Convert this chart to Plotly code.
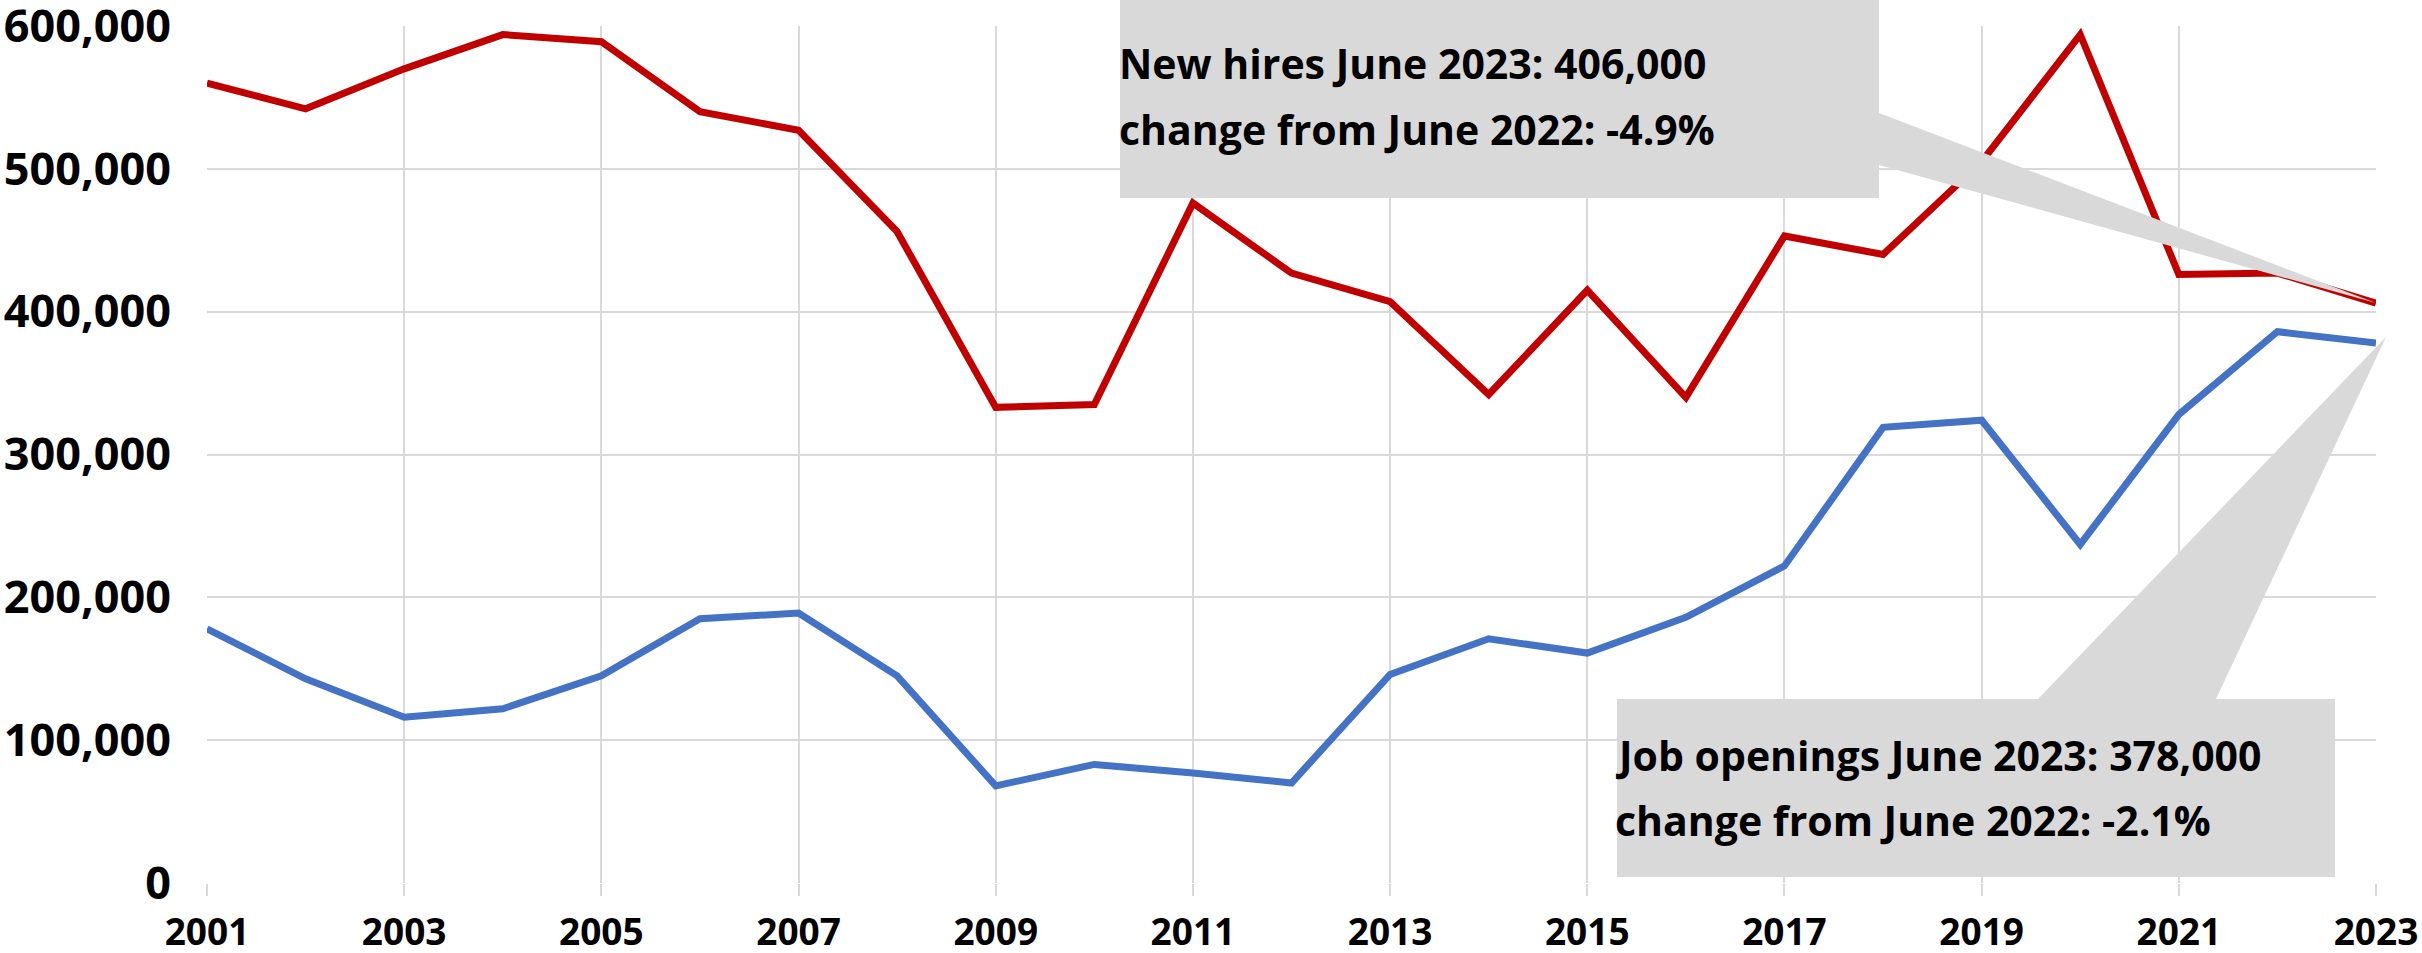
import plotly.graph_objects as go

# ---- data ----
years = list(range(2001, 2024))
new_hires = [560000, 542000, 570000, 594000, 589000, 540000, 527000, 456000,
             333000, 335000, 476000, 427000, 407000, 342000, 415000, 340000,
             453000, 440000, 505000, 594000, 426000, 427000, 406000]
job_openings = [178000, 143000, 116000, 122000, 145000, 185000, 189000, 145000,
                68000, 83000, 77000, 70000, 146000, 171000, 161000, 186000,
                222000, 319000, 324000, 237000, 328000, 386000, 378000]
y_tick_values = [0, 100000, 200000, 300000, 400000, 500000, 600000]
x_tick_values = list(range(2001, 2024, 2))
hires_callout = ["New hires June 2023: 406,000", "change from June 2022: -4.9%"]
openings_callout = ["Job openings June 2023: 378,000", "change from June 2022: -2.1%"]

# ---- styling ----
RED = "#C00000"
BLUE = "#4472C4"
GRID = "#D9D9D9"
CALLOUT = "#D9D9D9"
FONT = "Open Sans, Lato, DejaVu Sans, sans-serif"

W, H = 2422, 953
ML, MR, MT, MB = 207, 46, 26, 70
PW, PH = W - ML - MR, H - MT - MB
X_RANGE = [2001, 2023]
Y_RANGE = [0, 600000]


def px_x(X):
    return (X - ML) / PW


def px_y(Y):
    return (H - MB - Y) / PH


def data_x(v):
    return (v - X_RANGE[0]) / (X_RANGE[1] - X_RANGE[0])


def data_y(v):
    return (v - Y_RANGE[0]) / (Y_RANGE[1] - Y_RANGE[0])


fig = go.Figure()
fig.add_trace(go.Scatter(x=years, y=new_hires, mode="lines", name="New hires",
                         line=dict(color=RED, width=7)))
fig.add_trace(go.Scatter(x=years, y=job_openings, mode="lines", name="Job openings",
                         line=dict(color=BLUE, width=7)))

# ---- callout 1 (new hires): box at top, tail pointing to last red point ----
x0, x1 = px_x(1120), px_x(1879)
y0, y1 = px_y(198), px_y(0)
tb_top, tb_bot = px_y(113), px_y(165)
tipx, tipy = data_x(years[-1]), data_y(new_hires[-1])
path1 = (f"M {x0},{y1} L {x1},{y1} L {x1},{tb_top} L {tipx},{tipy} "
         f"L {x1},{tb_bot} L {x1},{y0} L {x0},{y0} Z")

# ---- callout 2 (job openings): box at bottom right, tail pointing up ----
a0, a1 = px_x(1617), px_x(2335)
b0, b1 = px_y(877), px_y(699)
bl, br = px_x(2038), px_x(2216)
tip2x = data_x(years[-1]) + 10 / PW
tip2y = data_y(job_openings[-1]) + 6 / PH
path2 = (f"M {a0},{b0} L {a0},{b1} L {bl},{b1} L {tip2x},{tip2y} "
         f"L {br},{b1} L {a1},{b1} L {a1},{b0} Z")

shapes = [
    dict(type="path", xref="paper", yref="paper", path=path1,
         fillcolor=CALLOUT, line=dict(width=0), layer="above"),
    dict(type="path", xref="paper", yref="paper", path=path2,
         fillcolor=CALLOUT, line=dict(width=0), layer="above"),
]

ann_font = dict(family=FONT, size=41, color="black", weight="bold")
annotations = []
for text, Y in zip(hires_callout, [63, 129]):
    annotations.append(dict(xref="paper", yref="paper", x=px_x(1118), y=px_y(Y),
                            xanchor="left", yanchor="middle", text=text,
                            showarrow=False, font=ann_font, borderpad=0))
for text, Y in zip(openings_callout, [755, 820]):
    annotations.append(dict(xref="paper", yref="paper", x=px_x(1614), y=px_y(Y),
                            xanchor="left", yanchor="middle", text=text,
                            showarrow=False, font=ann_font, borderpad=0))

fig.update_layout(
    width=W, height=H,
    margin=dict(l=ML, r=MR, t=MT, b=MB, autoexpand=False),
    paper_bgcolor="white", plot_bgcolor="white",
    showlegend=False,
    shapes=shapes,
    annotations=annotations,
    xaxis=dict(range=X_RANGE, tickvals=x_tick_values,
               ticktext=[str(v) for v in x_tick_values],
               showgrid=True, gridcolor=GRID, gridwidth=2,
               ticks="outside", ticklen=12, tickwidth=2, tickcolor=GRID,
               showline=False, zeroline=False,
               tickfont=dict(family=FONT, size=37, color="black", weight="bold"),
               ticklabelstandoff=5, ticklabeloverflow="allow"),
    yaxis=dict(range=Y_RANGE, tickvals=y_tick_values, tickformat=",",
               showgrid=True, gridcolor=GRID, gridwidth=2,
               ticks="", showline=False, zeroline=False,
               tickfont=dict(family=FONT, size=45, color="black", weight="bold"),
               ticklabelstandoff=35, ticklabeloverflow="allow"),
)

fig.write_html(
    "out.html",
    config={"displayModeBar": False},
    post_script="document.body.style.margin='0';document.body.style.overflow='hidden';",
)
